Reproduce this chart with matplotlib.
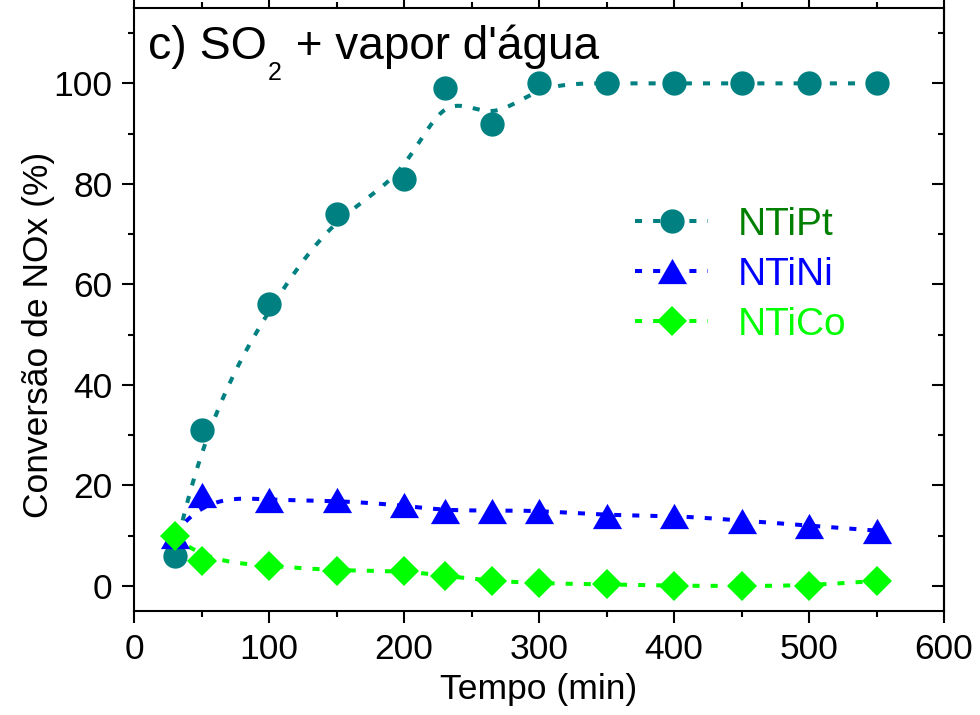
import numpy as np
import matplotlib
matplotlib.use("Agg")
import matplotlib.pyplot as plt
from matplotlib.path import Path

plt.rcParams['font.family'] = ['Liberation Sans', 'DejaVu Sans']

# ---- data ----
tempo = [30, 50, 100, 150, 200, 230, 265, 300, 350, 400, 450, 500, 550]
ntipt = [6, 31, 56, 74, 81, 99, 92, 100, 100, 100, 100, 100, 100]
ntini = [10, 18, 17, 17, 16, 15, 15, 15, 14, 14, 13, 12, 11]
ntico = [10, 5, 4, 3, 3, 2, 1, 0.5, 0.3, 0, 0, 0, 1]
labels = ["NTiPt", "NTiNi", "NTiCo"]
xticks = [0, 100, 200, 300, 400, 500, 600]
yticks = [0, 20, 40, 60, 80, 100]

teal = "#008080"
blue = "#0000FF"
green = "#00FF00"
ptlabel = "#008000"


def bspline(xs, ys, n=500, k=3):
    P = np.column_stack([xs, ys]).astype(float)
    m = len(P)
    t = np.concatenate([np.zeros(k), np.linspace(0, 1, m - k + 1), np.ones(k)])
    u = np.linspace(0, 1, n)
    u[-1] -= 1e-12
    N = np.zeros((n, len(t) - 1))
    for i in range(len(t) - 1):
        N[:, i] = (t[i] <= u) & (u < t[i + 1])
    for d in range(1, k + 1):
        newN = np.zeros((n, len(t) - 1 - d))
        for i in range(len(t) - 1 - d):
            a = np.zeros(n)
            b = np.zeros(n)
            den1 = t[i + d] - t[i]
            den2 = t[i + d + 1] - t[i + 1]
            if den1 > 0:
                a = (u - t[i]) / den1 * N[:, i]
            if den2 > 0:
                b = (t[i + d + 1] - u) / den2 * N[:, i + 1]
            newN[:, i] = a + b
        N = newN
    C = N @ P
    return C[:, 0], C[:, 1]


tri = Path([(-1, -0.866), (1, -0.866), (0, 0.866), (-1, -0.866)],
           [Path.MOVETO, Path.LINETO, Path.LINETO, Path.CLOSEPOLY])

fig = plt.figure(figsize=(9.8, 7.15), dpi=100)
ax = fig.add_axes([134 / 980, 1 - 611 / 715, 810 / 980, 603 / 715])

lw = 2.9
dash = (0, (1.75, 2.75))
series = [(ntipt, teal, 'o', 17.5), (ntini, blue, tri, 21), (ntico, green, 'D', 15.5)]
handles = []
for (ys, col, mk, ms), lab in zip(series, labels):
    sx, sy = bspline(tempo, ys)
    ax.plot(sx, sy, color=col, lw=lw, linestyle=dash, zorder=2)
    ax.plot(tempo, ys, linestyle='none', marker=mk, ms=ms, color=col,
            markeredgewidth=0, zorder=3)
    h, = ax.plot([], [], color=col, lw=lw, linestyle=dash, marker=mk, ms=ms,
                 markeredgewidth=0)
    handles.append(h)

ax.set_xlim(0, 600)
ax.set_ylim(-5, 115)
ax.set_xticks(xticks)
ax.set_yticks(yticks)
ax.set_xticks(np.arange(50, 600, 100), minor=True)
ax.set_yticks(np.arange(10, 120, 20), minor=True)

for s in ax.spines.values():
    s.set_linewidth(1.5)

ax.tick_params(axis='x', which='both', direction='out', top=True, bottom=True,
               width=1.5, labelsize=25.5, pad=7)
ax.tick_params(axis='y', which='both', direction='out', left=True, right=False,
               width=1.5, labelsize=25.5, pad=7)
ax.tick_params(which='major', length=8.6)
ax.tick_params(which='minor', length=4.3)

sec = ax.secondary_yaxis('right')
sec.set_yticks(yticks)
sec.set_yticks(np.arange(10, 120, 20), minor=True)
sec.tick_params(which='both', direction='in', width=1.5, labelright=False)
sec.tick_params(which='major', length=8.6)
sec.tick_params(which='minor', length=4.3)
sec.spines['right'].set_linewidth(1.5)

ax.set_xlabel("Tempo (min)", fontsize=25.5, labelpad=5)
ax.set_ylabel("Conversão de NOx (%)", fontsize=25.5)
ax.yaxis.set_label_coords(-0.097, 0.458)

leg = ax.legend(handles, labels, loc='upper left',
                bbox_to_anchor=((635 - 134) / 810, (611 - 207) / 603),
                frameon=False, fontsize=28, handlelength=1.88,
                handletextpad=0.75, labelspacing=0.36, borderpad=0,
                borderaxespad=0, numpoints=1)
for txt, col in zip(leg.get_texts(), [ptlabel, blue, green]):
    txt.set_color(col)

# title with subscript
fig.canvas.draw()
r = fig.canvas.get_renderer()
x0 = (148 - 134) / 810
ybase = (611 - 59) / 603
t1 = ax.text(x0, ybase, "c) SO", transform=ax.transAxes, fontsize=33.5,
             ha='left', va='baseline')
bb = t1.get_window_extent(r)
inv = ax.transAxes.inverted()
x1 = inv.transform((bb.x1 + 1, 0))[0]
ysub = inv.transform((0, ax.transAxes.transform((0, ybase))[1] - 21))[1]
t2 = ax.text(x1, ysub, "2", transform=ax.transAxes, fontsize=18,
             ha='left', va='baseline')
bb2 = t2.get_window_extent(r)
x2 = inv.transform((bb2.x1 + 1, 0))[0]
ax.text(x2, ybase, " + vapor d'água", transform=ax.transAxes, fontsize=33,
        ha='left', va='baseline')

fig.savefig("out.png", dpi=100)
